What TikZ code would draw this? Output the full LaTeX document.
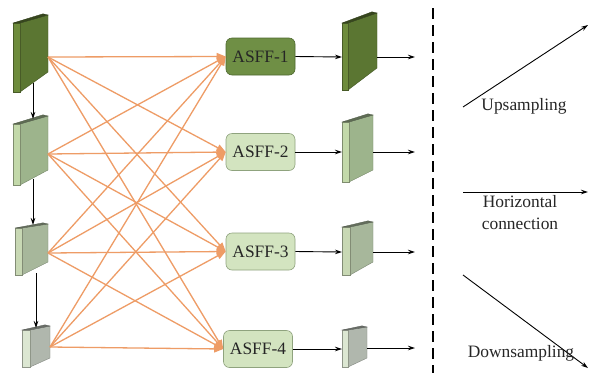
\documentclass[tikz,border=0pt]{standalone}
\usepackage{fontspec}
\setmainfont{Liberation Serif}
\newfontfamily\tnrfont{Liberation Serif}
\usetikzlibrary{arrows.meta}
\definecolor{orng}{HTML}{EE9C66}
\definecolor{sAstrip}{HTML}{6E8C3C}
\definecolor{sAface}{HTML}{5B7632}
\definecolor{sBstrip}{HTML}{C3D9AA}
\definecolor{sBface}{HTML}{9DB48C}
\definecolor{sCstrip}{HTML}{C8D8B4}
\definecolor{sCface}{HTML}{A7B79B}
\definecolor{sDstrip}{HTML}{DCE7D2}
\definecolor{sDface}{HTML}{B0B7AD}
\definecolor{asffdark}{HTML}{6F8F45}
\definecolor{asffdarkb}{HTML}{4F6A30}
\definecolor{asfflight}{HTML}{D3E4C0}
\definecolor{asfflightb}{HTML}{8FA37E}
% x0 x1 x2 yt yb yrt yrb stripcolor facecolor
\newcommand{\slabdraw}[9]{%
  \filldraw[fill=#9, draw=#9!75!black, line width=0.4pt] (#2,#4) -- (#3,#6) -- (#3,#7) -- (#2,#5) -- cycle;
  \filldraw[fill=#8, draw=#8!65!black, line width=0.4pt] (#1,#4) -- (#2,#4) -- (#2,#5) -- (#1,#5) -- cycle;
  \filldraw[fill=#9!60!black, draw=#9!50!black, line width=0.3pt] (#1,#4) -- (#2,#4) -- (#3,#6) -- ({#3-5},{#6-1.2}) -- cycle;
}
\tikzset{
  asffbox/.style={draw, rounded corners=6pt, minimum width=69pt, minimum height=37pt, inner sep=0pt, line width=0.6pt,
    font=\tnrfont\fontsize{17.4}{20}\selectfont, text=black!85},
  asffA/.style={asffbox, fill=asffdark, draw=asffdarkb},
  asffL/.style={asffbox, fill=asfflight, draw=asfflightb},
  fuse/.style={draw=orng, line width=1.3pt, -{Triangle[length=9pt,width=7pt]}},
  blk/.style={draw=black, line width=0.9pt, -{Stealth[length=7pt,width=4.5pt]}},
  lbl/.style={font=\tnrfont\fontsize{17.4}{22}\selectfont, text=black!85, align=center, inner sep=0pt},
}
\begin{document}
\begin{tikzpicture}[x=1pt,y=-1pt]
\useasboundingbox (0,0) rectangle (599,373);
\fill[white] (0,0) rectangle (599,373);

% input slabs
\slabdraw{13}{20}{48}{23}{92}{15}{72}{sAstrip}{sAface}
\slabdraw{13}{20}{48}{124}{185}{116}{170}{sBstrip}{sBface}
\slabdraw{15}{22}{48}{228}{275}{224}{262}{sCstrip}{sCface}
\slabdraw{22}{30}{50}{330}{367}{326}{358}{sDstrip}{sDface}
\coordinate (in1) at (48,57);
\coordinate (in2) at (48,154);
\coordinate (in3) at (48,253);
\coordinate (in4) at (50,347);

% output slabs
\slabdraw{342}{348}{377}{23}{90}{13}{68}{sAstrip}{sAface}
\slabdraw{342}{349}{373}{122}{182}{115}{170}{sBstrip}{sBface}
\slabdraw{342}{350}{373}{227}{275}{222}{262}{sCstrip}{sCface}
\slabdraw{342}{348}{367}{330}{367}{327}{358}{sDstrip}{sDface}
\coordinate (o1in) at (342,57);
\coordinate (o2in) at (342,152);
\coordinate (o3in) at (342,252);
\coordinate (o4in) at (342,349);
\coordinate (o1out) at (377,57);
\coordinate (o2out) at (373,152);
\coordinate (o3out) at (373,252);
\coordinate (o4out) at (367,348);
\coordinate (e1) at (415,57);
\coordinate (e2) at (415,152);
\coordinate (e3) at (415,252);
\coordinate (e4) at (415,348);

% ASFF nodes
\node[asffA] (A1) at (260.5,56.5) {ASFF-1};
\node[asffL] (A2) at (260.5,152) {ASFF-2};
\node[asffL] (A3) at (260.5,251.5) {ASFF-3};
\node[asffL] (A4) at (258,349) {ASFF-4};

% fusion connections
\foreach \i in {1,2,3,4}{
  \foreach \j in {1,2,3,4}{
    \draw[fuse] (in\i) -- (A\j.west);
  }
}

% vertical arrows
\coordinate (v1a) at (33,83);
\coordinate (v1b) at (33,119);
\coordinate (v2a) at (33,179);
\coordinate (v2b) at (33,225);
\coordinate (v3a) at (36,273);
\coordinate (v3b) at (36,328);
\draw[blk] (v1a) -- (v1b);
\draw[blk] (v2a) -- (v2b);
\draw[blk] (v3a) -- (v3b);

% ASFF to outputs
\draw[blk] (A1.east) -- (o1in);
\draw[blk] (A2.east) -- (o2in);
\draw[blk] (A3.east) -- (o3in);
\draw[blk] (A4.east) -- (o4in);
\draw[blk] (o1out) -- (e1);
\draw[blk] (o2out) -- (e2);
\draw[blk] (o3out) -- (e3);
\draw[blk] (o4out) -- (e4);

% divider
\coordinate (d1) at (433,8);
\coordinate (d2) at (433,373);
\draw[line width=1.4pt, dash pattern=on 11pt off 6pt] (d1) -- (d2);

% legend
\coordinate (u1) at (463,107);
\coordinate (u2) at (588,25);
\coordinate (h1) at (463,192);
\coordinate (h2) at (588,192);
\coordinate (w1) at (463,275);
\coordinate (w2) at (588,368);
\draw[blk] (u1) -- (u2);
\draw[blk] (h1) -- (h2);
\draw[blk] (w1) -- (w2);
\node[lbl] (tu) at (524,106) {Upsampling};
\node[lbl] (th) at (520,213) {Horizontal\\connection};
\node[lbl] (td) at (521,353) {Downsampling};
\end{tikzpicture}
\end{document}
